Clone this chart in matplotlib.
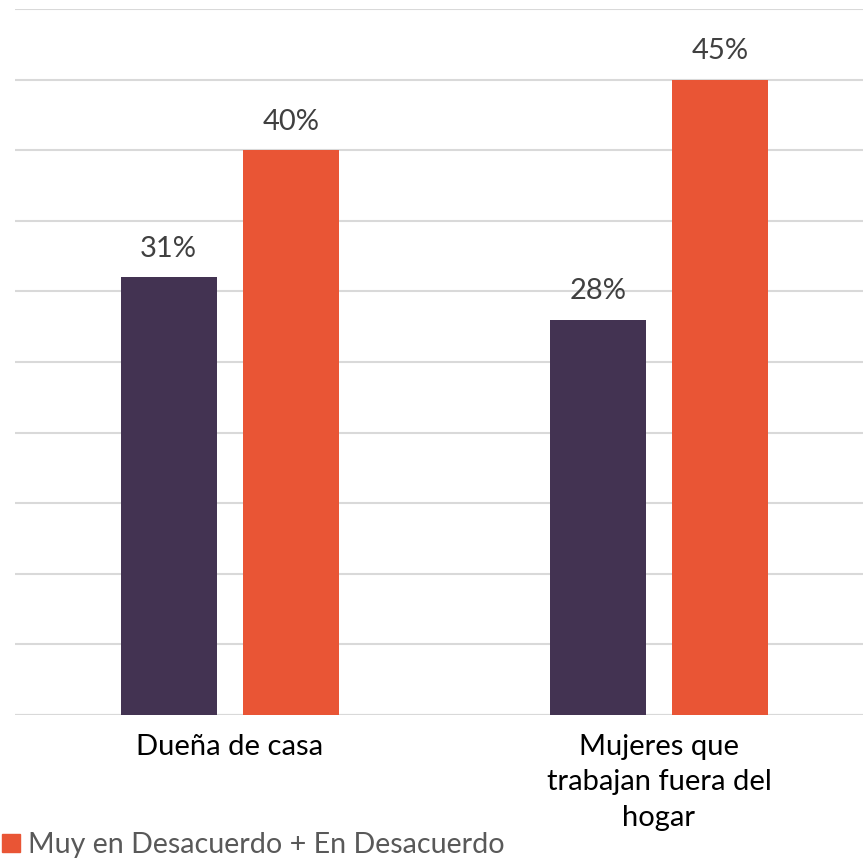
import matplotlib
matplotlib.use("Agg")
import matplotlib.pyplot as plt
import numpy as np

categories = ["Dueña de casa", "Mujeres que\ntrabajan fuera del\nhogar"]
series_a = [31, 28]   # purple series
series_b = [40, 45]   # orange series
label_b = "Muy en Desacuerdo + En Desacuerdo"
yticks = [0, 5, 10, 15, 20, 25, 30, 35, 40, 45, 50]

plt.rcParams['font.family'] = ['Lato', 'DejaVu Sans']

W, H = 863, 858
fig = plt.figure(figsize=(W/100, H/100), dpi=100)
left, right = 15, 863
top, bottom = 9, 715
ax = fig.add_axes([left/W, 1-bottom/H, (right-left)/W, (bottom-top)/H])

x = np.arange(len(categories))
off = 0.143
w = 0.224
purple = "#433352"
orange = "#E95535"
ax.bar(x-off, series_a, w, color=purple, zorder=3)
ax.bar(x+off, series_b, w, color=orange, zorder=3, label=label_b)

for xi, v in zip(x-off, series_a):
    ax.annotate(f"{v}%", (xi, v), xytext=(0, 11), textcoords="offset points",
                ha="center", va="bottom", fontsize=21, color="#404040")
for xi, v in zip(x+off, series_b):
    ax.annotate(f"{v}%", (xi, v), xytext=(0, 11), textcoords="offset points",
                ha="center", va="bottom", fontsize=21, color="#404040")

ax.set_xlim(-0.501, 1.4755)
ax.set_ylim(0, 50)
ax.set_yticks(yticks)
ax.yaxis.grid(True, color="#D9D9D9", linewidth=1.5, zorder=0)
ax.tick_params(axis='y', left=False, labelleft=False)
ax.tick_params(axis='x', bottom=False, labelsize=21, pad=10)
ax.set_xticks(x)
ax.set_xticklabels(categories, color="black", linespacing=1.45, va="top")
for s in ax.spines.values():
    s.set_visible(False)
ax.axhline(0, color="#D9D9D9", linewidth=1.5, zorder=2)

handle = plt.Rectangle((0, 0), 1, 1, color=orange)
fig.legend([handle], [label_b], loc="lower left", bbox_to_anchor=(-0.027, -0.03),
           frameon=False, fontsize=20.6, labelcolor="#595959",
           handlelength=0.6, handleheight=0.6, handletextpad=0.3)

fig.savefig("out.png", dpi=100)
